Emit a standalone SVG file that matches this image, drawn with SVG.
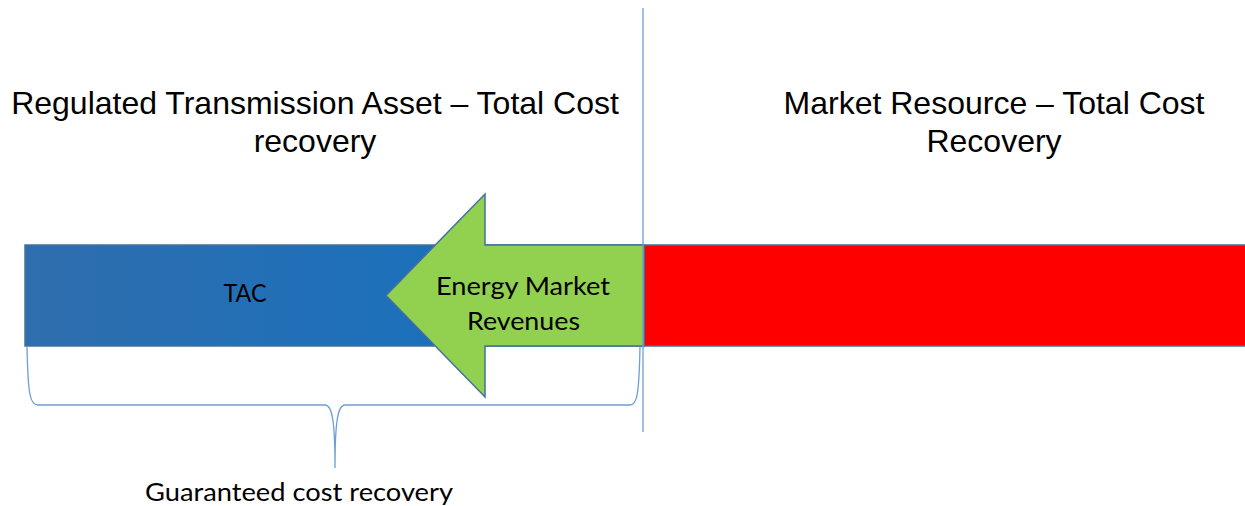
<svg xmlns="http://www.w3.org/2000/svg" width="1245" height="506" viewBox="0 0 1245 506">
<defs>
<linearGradient id="blueGrad" x1="0" y1="0" x2="1" y2="0">
<stop offset="0" stop-color="#2F6EAE"/>
<stop offset="1" stop-color="#1171C1"/>
</linearGradient>
</defs>
<style>
.title{font-family:"Liberation Sans",Arial,sans-serif;font-size:32px;fill:#000;text-anchor:middle}
.lbl{font-family:Lato,"Open Sans",sans-serif;font-size:25.5px;fill:#000;text-anchor:middle}
.box{stroke:#41719C;stroke-width:1.5}
.conn{fill:none;stroke:#6A9FD8;stroke-width:1.3}
</style>
<rect width="1245" height="506" fill="#fff"/>
<g id="title-left">
<text class="title" x="315" y="114">Regulated Transmission Asset – Total Cost</text>
<text class="title" x="315" y="152">recovery</text>
</g>
<g id="title-right">
<text class="title" x="994" y="114">Market Resource – Total Cost</text>
<text class="title" x="994" y="152">Recovery</text>
</g>
<g id="tac">
<rect class="box" x="25" y="245" width="619" height="101" fill="url(#blueGrad)"/>
<text class="lbl" x="245" y="302" textLength="43" lengthAdjust="spacingAndGlyphs">TAC</text>
</g>
<g id="market">
<rect class="box" x="644" y="245" width="610" height="101" fill="#FF0000"/>
</g>
<g id="energy-arrow">
<polygon class="box" points="386,295.5 485,194 485,245 644,245 644,346 485,346 485,397" fill="#92D050"/>
<text class="lbl" x="523" y="295" textLength="174" lengthAdjust="spacingAndGlyphs">Energy Market</text>
<text class="lbl" x="523.5" y="330" textLength="113" lengthAdjust="spacingAndGlyphs">Revenues</text>
</g>
<g id="connectors">
<line class="conn" x1="643" y1="8" x2="643" y2="432" stroke="#8DB3E2"/>
<path class="conn" d="M27,347 C28,395 30,405 38,405 L325,405 C332,405 335,420 335,468 M335,468 C335,420 338,405 345,405 L630,405 C637,405 639,395 640,347"/>
</g>
<g id="guaranteed">
<text class="lbl" x="299" y="501" textLength="308" lengthAdjust="spacingAndGlyphs">Guaranteed cost recovery</text>
</g>
</svg>
